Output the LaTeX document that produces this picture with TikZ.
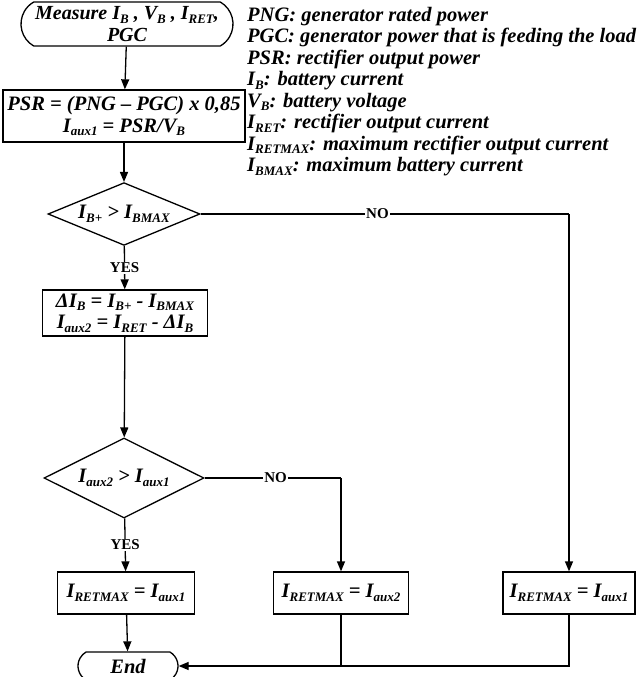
\documentclass[tikz,border=0pt]{standalone}
\usepackage{fontspec}
\setmainfont{Liberation Serif}
\usetikzlibrary{shapes.geometric,shapes.misc,arrows.meta}
% small lowered index, as used in the current/voltage names
\newcommand{\sbs}[1]{\raisebox{-3.5pt}{\fontsize{13}{13}\selectfont #1}}
\tikzset{
  every node/.style={font=\fontsize{20.5}{21.5}\selectfont\bfseries\itshape},
  flow/.style={line width=1.3pt},
  arr/.style={flow,-{Triangle[length=10pt,width=8pt]}},
  procbox/.style={draw,line width=1.3pt,rectangle,inner sep=0pt,align=center},
  term/.style={draw,line width=1.3pt,rounded rectangle,rounded rectangle arc length=120,
    inner sep=0pt,align=center},
  decide/.style={draw,line width=1.3pt,diamond,inner sep=0pt,aspect=2},
  lbl/.style={fill=white,inner sep=1pt,font=\fontsize{15}{18}\selectfont\bfseries}
}
\begin{document}
\begin{tikzpicture}[x=1pt,y=-1pt]
\useasboundingbox (0,0) rectangle (638,677);
% main column
\node[term,minimum width=212pt,minimum height=44pt,
  font=\fontsize{20}{21.5}\selectfont\bfseries\itshape] (start) at (127,24)
  {Measure I\sbs{B} , V\sbs{B} , I\sbs{RET},\\PGC};
\node[procbox,minimum width=242pt,minimum height=52pt] (p1) at (124,116)
  {PSR = (PNG – PGC) x 0,85\\I\sbs{aux1} = PSR/V\sbs{B}};
\node[decide,minimum width=152pt,minimum height=58pt] (d1) at (124,214)
  {I\sbs{B+} > I\sbs{BMAX}};
\node[procbox,minimum width=165pt,minimum height=46pt] (p2) at (125,313)
  {ΔI\sbs{B} = I\sbs{B+} - I\sbs{BMAX}\\I\sbs{aux2} = I\sbs{RET} - ΔI\sbs{B}};
\node[decide,minimum width=160pt,minimum height=80pt] (d2) at (124,478)
  {I\sbs{aux2} > I\sbs{aux1}};
% results row
\node[procbox,minimum width=137pt,minimum height=42pt] (ra) at (126,593)
  {I\sbs{RETMAX} = I\sbs{aux1}};
\node[procbox,minimum width=135pt,minimum height=42pt] (rb) at (341,593)
  {I\sbs{RETMAX} = I\sbs{aux2}};
\node[procbox,minimum width=132pt,minimum height=42pt] (rc) at (569,593)
  {I\sbs{RETMAX} = I\sbs{aux1}};
\node[term,minimum width=100pt,minimum height=28pt] (end) at (128,666) {End};
% legend
\node[anchor=north west,align=left,inner sep=0pt] (legend) at (247,7) {%
PNG: generator rated power\\
PGC: generator power that is feeding the load\\
PSR: rectifier output power\\
I\sbs{B}: battery current\\
V\sbs{B}: battery voltage\\
I\sbs{RET}: rectifier output current\\
I\sbs{RETMAX}: maximum rectifier output current\\
I\sbs{BMAX}: maximum battery current};
% connectors
\coordinate (n1) at (rc.north |- d1.east);
\coordinate (n2) at (rb.north |- d2.east);
\coordinate (j) at (rb.south |- end.east);
\draw[arr] (start) -- (p1);
\draw[arr] (p1) -- (d1);
\draw[arr] (d1) -- node[lbl] (yes1) {YES} (p2);
\draw[arr] (p2) -- (d2);
\draw[arr] (d2) -- node[lbl] (yes2) {YES} (ra);
\draw[arr] (ra) -- (end);
\draw[flow] (d1.east) -- node[lbl,pos=0.48] (no1) {NO} (n1);
\draw[arr] (n1) -- (rc.north);
\draw[flow] (d2.east) -- node[lbl,pos=0.52] (no2) {NO} (n2);
\draw[arr] (n2) -- (rb.north);
\draw[flow] (rb.south) -- (j);
\draw[arr] (rc.south) |- (end.east);
\end{tikzpicture}
\end{document}
